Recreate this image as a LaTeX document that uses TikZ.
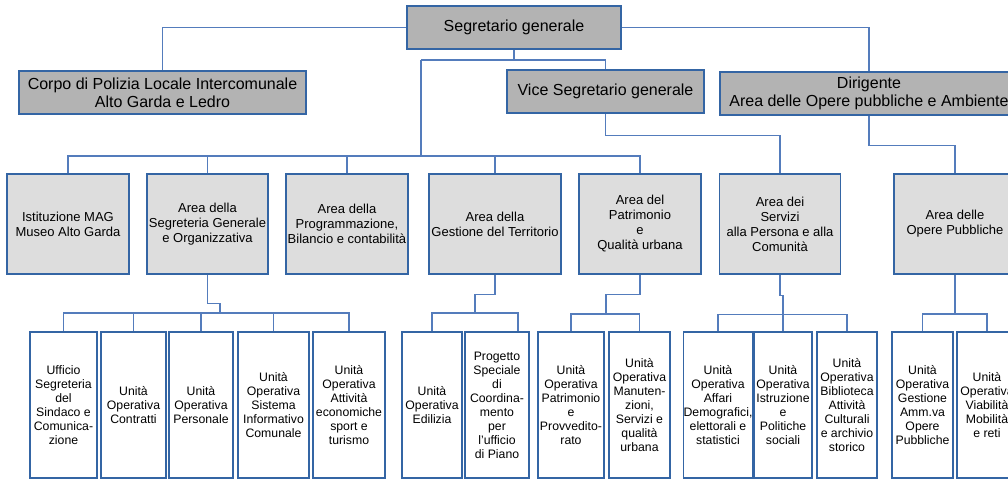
\documentclass[tikz,border=0pt]{standalone}
\usepackage{fontspec}
\setmainfont{Liberation Sans}
\usepackage{tikz}

\definecolor{orgEdge}{RGB}{52,101,164}
\definecolor{orgLink}{RGB}{84,124,188}
\definecolor{orgTopFill}{RGB}{179,179,179}
\definecolor{orgAreaFill}{RGB}{221,221,221}

\tikzset{
  %% sizes in pixels of the chart (1px = 0.75pt)
  wd/.style={minimum width=#1*0.75pt},
  ht/.style={minimum height=#1*0.75pt},
  orgTop/.style={draw=orgEdge, fill=orgTopFill, line width=0.8pt, inner sep=0pt,
    ht=43, align=center, font=\fontsize{12}{13.5}\selectfont},
  orgArea/.style={draw=orgEdge, fill=orgAreaFill, line width=0.8pt, inner sep=0pt,
    ht=100, align=center, font=\fontsize{9.75}{11.25}\selectfont},
  orgUnit/.style={draw=orgEdge, fill=white, line width=0.8pt, inner sep=0pt,
    ht=146, align=center, font=\fontsize{9.2}{10.5}\selectfont},
  %% connectors
  orglink/.style={draw=orgLink, line width=0.9pt},
}

\begin{document}
\begin{tikzpicture}[x=0.75pt, y=-0.75pt]
\useasboundingbox (0,0) rectangle (1008,481);

%% top level
\node[orgTop, wd=214] (seg)   at (514,27.5)   {Segretario generale};
\node[orgTop, wd=287] (corpo) at (162.5,92.5) {Corpo di Polizia Locale Intercomunale\\Alto Garda e Ledro};
\node[orgTop, wd=197] (vice)  at (605.5,91.5) {Vice Segretario generale};
\node[orgTop, wd=298] (dir)   at (869,93.5)   {Dirigente\\Area delle Opere pubbliche e Ambiente};

%% areas
\node[orgArea, wd=122] (ist)   at (68,224)    {Istituzione MAG\\Museo Alto Garda};
\node[orgArea, wd=121] (segr)  at (207.5,224) {Area della\\Segreteria Generale\\e Organizzativa};
\node[orgArea, wd=122] (prog)  at (347,224)   {Area della\\Programmazione,\\Bilancio e contabilità};
\node[orgArea, wd=132] (terr)  at (495,224)   {Area della\\Gestione del Territorio};
\node[orgArea, wd=122] (patr)  at (640,224)   {Area del\\Patrimonio\\e\\Qualità urbana};
\node[orgArea, wd=121] (serv)  at (780,224)   {Area dei\\Servizi\\alla Persona e alla\\Comunità};
\node[orgArea, wd=122] (opere) at (955,224)   {Area delle\\Opere Pubbliche};

%% units
\node[orgUnit, wd=67] (uff)    at (63.5,405)  {Ufficio\\Segreteria\\del\\Sindaco e\\Comunica-\\zione};
\node[orgUnit, wd=65] (contr)  at (133.5,405) {Unità\\Operativa\\Contratti};
\node[orgUnit, wd=64] (pers)   at (201,405)   {Unità\\Operativa\\Personale};
\node[orgUnit, wd=71] (sist)   at (273.5,405) {Unità\\Operativa\\Sistema\\Informativo\\Comunale};
\node[orgUnit, wd=72] (att)    at (349,405)   {Unità\\Operativa\\Attività\\economiche\\sport e\\turismo};
\node[orgUnit, wd=60] (edil)   at (432,405)   {Unità\\Operativa\\Edilizia};
\node[orgUnit, wd=64] (progsp) at (497,405)   {Progetto\\Speciale\\di\\Coordina-\\mento\\per\\l'ufficio\\di Piano};
\node[orgUnit, wd=66] (uprov)  at (571,405)   {Unità\\Operativa\\Patrimonio\\e\\Provvedito-\\rato};
\node[orgUnit, wd=61] (manut)  at (639.5,405) {Unità\\Operativa\\Manuten-\\zioni,\\Servizi e\\qualità\\urbana};
\node[orgUnit, wd=66] (affari) at (718,405)   {Unità\\Operativa\\Affari\\Demografici,\\elettorali e\\statistici};
\node[orgUnit, wd=58] (istr)   at (783,405)   {Unità\\Operativa\\Istruzione\\e\\Politiche\\sociali};
\node[orgUnit, wd=60] (bibl)   at (847,405)   {Unità\\Operativa\\Biblioteca\\Attività\\Culturali\\e archivio\\storico};
\node[orgUnit, wd=61] (gest)   at (922.5,405) {Unità\\Operativa\\Gestione\\Amm.va\\Opere\\Pubbliche};
\node[orgUnit, wd=60] (viab)   at (987,405)   {Unità\\Operativa\\Viabilità\\Mobilità\\e reti};

%% junctions
\coordinate (jV) at (421,60);
\coordinate (jA) at (421,156);
\coordinate (jS) at (220,313);
\coordinate (jT) at (475,313);
\coordinate (jP) at (606,314);
\coordinate (jO) at (955,314);

%% links from the top
\draw[orglink] (seg.west) -| (corpo.north);
\draw[orglink] (seg.east) -| (dir.north);
\draw[orglink] (seg.south) |- (jV);
\draw[orglink] (vice.north) |- (jV);
\draw[orglink] (jV) -- (jA);
\draw[orglink] (ist.north) |- (jA);
\draw[orglink] (patr.north) |- (jA);
\foreach \n in {segr,prog,terr}
  \draw[orglink] (\n.north) -- (\n.north |- jA);
\draw[orglink] (vice.south) -- ++(0,22) -| (serv.north);
\draw[orglink] (dir.south) -- ++(0,30) -| (opere.north);

%% links to the units
\draw[orglink] (segr.south) -- ++(0,29) -| (jS);
\draw[orglink] (uff.north) |- (jS) -| (att.north);
\foreach \n in {contr,pers,sist}
  \draw[orglink] (\n.north) -- (\n.north |- jS);
\draw[orglink] (terr.south) -- ++(0,20) -| (jT);
\draw[orglink] (edil.north) |- (jT) -| ([xshift=15.75pt]progsp.north);
\draw[orglink] (patr.south) -- ++(0,20) -| (jP);
\draw[orglink] (uprov.north) |- (jP) -| (manut.north);
\draw[orglink] (serv.south) -- ++(0,21) -| (istr.north);
\draw[orglink] (affari.north) -- ++(0,-17) -| (bibl.north);
\draw[orglink] (opere.south) -- (jO);
\draw[orglink] (gest.north) |- (jO) -| (viab.north);
\end{tikzpicture}
\end{document}
